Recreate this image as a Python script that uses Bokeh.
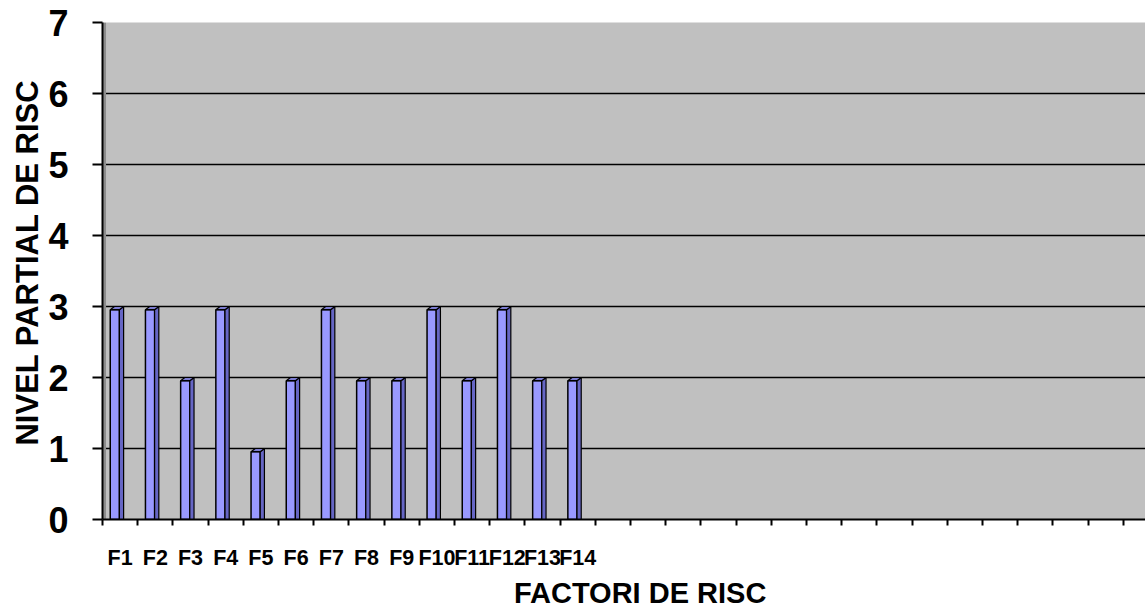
from bokeh.plotting import figure
from bokeh.models import Range1d, FixedTicker, CustomJSTickFormatter, BoxAnnotation
from bokeh.embed import file_html
from bokeh.resources import INLINE

# ---- data ----
categories = ["F1", "F2", "F3", "F4", "F5", "F6", "F7", "F8", "F9", "F10",
              "F11", "F12", "F13", "F14"]
values = [3, 3, 2, 3, 1, 2, 3, 2, 2, 3, 2, 3, 2, 2]
y_ticks = [0, 1, 2, 3, 4, 5, 6, 7]
n_slots = 30  # category slots on the axis (only the first 14 are filled)

FONT = "Liberation Sans"

p = figure(width=1145, height=613, output_backend="svg", toolbar_location=None,
           x_range=Range1d(0, 29.63), y_range=Range1d(0, 7),
           min_border_left=102, min_border_right=0, min_border_top=22,
           min_border_bottom=94)
p.border_fill_color = "white"
p.outline_line_color = None
p.background_fill_color = "#C0C0C0"

# left wall (3D side strip)
p.add_layout(BoxAnnotation(left=0, right=0.1, fill_color="#8C8C8C", fill_alpha=1,
                           line_color=None, level="underlay"))

# grid
p.xgrid.grid_line_color = None
p.ygrid.grid_line_color = "black"
p.ygrid.grid_line_width = 1.5
p.ygrid.ticker = FixedTicker(ticks=y_ticks)

# bars (front face + 3D side and top)
dx, dy = 0.12, 0.045
xl = [i + 0.22 for i in range(len(values))]
xr = [i + 0.48 for i in range(len(values))]
tops = [v - dy for v in values]
p.quad(left=xl, right=xr, bottom=0, top=tops, fill_color="#9999FF",
       line_color="black", line_width=1.5)
side_xs = [[r, r + dx, r + dx, r] for r in xr]
side_ys = [[0, 0, v, v - dy] for v in values]
p.patches(side_xs, side_ys, fill_color="#6666C4", line_color="black", line_width=1.2)
top_xs = [[l, r, r + dx, l + dx] for l, r in zip(xl, xr)]
top_ys = [[v - dy, v - dy, v, v] for v in values]
p.patches(top_xs, top_ys, fill_color="#7C7CD0", line_color="black", line_width=1.2)

# x axis: tick marks at slot boundaries, labels at slot centres
xa = p.xaxis[0]
xa.ticker = FixedTicker(ticks=[i + 0.5 for i in range(len(categories))],
                        minor_ticks=list(range(n_slots)))
xa.formatter = CustomJSTickFormatter(args=dict(names=categories),
                                     code="const i = Math.round(tick - 0.5); return names[i] || '';")
xa.major_tick_out = 0
xa.major_tick_in = 0
xa.minor_tick_out = 6
xa.minor_tick_in = 0
xa.minor_tick_line_color = "black"
xa.minor_tick_line_width = 2
xa.axis_line_color = "black"
xa.axis_line_width = 2
xa.major_label_text_font = FONT
xa.major_label_text_font_style = "bold"
xa.major_label_text_font_size = "21.5px"
xa.major_label_text_color = "black"
xa.major_label_standoff = 20
xa.axis_label = "\u00a0" * 4 + "FACTORI DE RISC"
xa.axis_label_text_font = FONT
xa.axis_label_text_font_style = "bold"
xa.axis_label_text_font_size = "29px"
xa.axis_label_text_color = "black"
xa.axis_label_standoff = 4

# y axis
ya = p.yaxis[0]
ya.ticker = FixedTicker(ticks=y_ticks)
ya.major_tick_out = 10
ya.major_tick_in = 0
ya.minor_tick_out = 0
ya.minor_tick_in = 0
ya.major_tick_line_color = "black"
ya.major_tick_line_width = 2
ya.axis_line_color = "black"
ya.axis_line_width = 2
ya.major_label_text_font = FONT
ya.major_label_text_font_style = "bold"
ya.major_label_text_font_size = "36px"
ya.major_label_text_color = "black"
ya.major_label_standoff = 24
ya.axis_label = "\u00a0" * 2 + "NIVEL PARTIAL DE RISC"
ya.axis_label_text_font = FONT
ya.axis_label_text_font_style = "bold"
ya.axis_label_text_font_size = "31px"
ya.axis_label_text_color = "black"
ya.axis_label_standoff = 0

open("out.html", "w").write(file_html(p, INLINE))
